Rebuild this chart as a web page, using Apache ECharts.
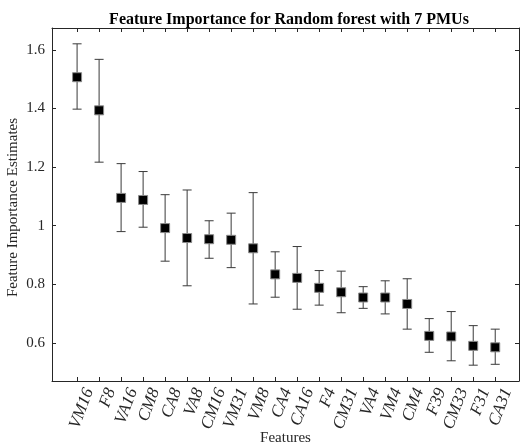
<!DOCTYPE html>
<html>
<head>
<meta charset="utf-8">
<script src="https://cdn.jsdelivr.net/npm/echarts@6/dist/echarts.min.js"></script>
<style>
  * { margin: 0; padding: 0; }
  body { background: #fff; }
  #chart-container { width: 520px; height: 447px; }
</style>
</head>
<body>
<div id="chart-container"></div>
<script>
  var features = ['VM16', 'F8', 'VA16', 'CM8', 'CA8', 'VA8', 'CM16', 'VM31', 'VM8', 'CA4',
    'CA16', 'F4', 'CM31', 'VA4', 'VM4', 'CM4', 'F39', 'CM33', 'F31', 'CA31']
  var estimates = [1.507, 1.394, 1.095, 1.088, 0.992, 0.958, 0.954, 0.952, 0.923, 0.834,
    0.822, 0.788, 0.773, 0.755, 0.755, 0.733, 0.624, 0.622, 0.590, 0.585]
  var lowerBounds = [1.398, 1.217, 0.980, 0.995, 0.879, 0.795, 0.889, 0.857, 0.733, 0.756,
    0.715, 0.729, 0.703, 0.718, 0.699, 0.647, 0.568, 0.539, 0.524, 0.527]
  var upperBounds = [1.621, 1.568, 1.212, 1.185, 1.106, 1.122, 1.017, 1.043, 1.113, 0.911,
    0.929, 0.847, 0.845, 0.792, 0.812, 0.819, 0.683, 0.707, 0.659, 0.647]
  var yTicks = [0.6, 0.8, 1.0, 1.2, 1.4, 1.6]

  var chartDom = document.getElementById('chart-container')
  var myChart = echarts.init(chartDom, null, { renderer: 'canvas' })

  var idx = features.map(function (f, i) { return i })
  var pointData = estimates.map(function (v, i) { return [i, v] })
  var barData = estimates.map(function (v, i) { return [i, lowerBounds[i], upperBounds[i]] })

  var serif = 'Liberation Serif'
  var axisColor = '#262626'
  var xMin = -1.14
  var xMax = 20.08
  var yMin = 0.47
  var yMax = 1.675
  // rotated labels sit a little right of their ticks, like the original
  var labelShift = 0.55

  function xAxisBase(pos) {
    return {
      type: 'value',
      position: pos,
      min: xMin,
      max: xMax,
      splitLine: { show: false },
      axisLine: { show: true, onZero: false, lineStyle: { color: axisColor, width: 1 } },
      axisTick: { show: true, inside: true, length: 4, customValues: idx, lineStyle: { color: axisColor } },
      axisLabel: { show: false },
    }
  }
  function yAxisBase(pos) {
    return {
      type: 'value',
      position: pos,
      min: yMin,
      max: yMax,
      splitLine: { show: false },
      axisLine: { show: true, onZero: false, lineStyle: { color: axisColor, width: 1 } },
      axisTick: { show: true, inside: true, length: 4, customValues: yTicks, lineStyle: { color: axisColor } },
    }
  }

  var xBottom = xAxisBase('bottom')
  xBottom.name = 'Features'
  xBottom.nameLocation = 'middle'
  xBottom.nameGap = 50
  xBottom.nameMoveOverlap = false
  xBottom.nameTextStyle = { fontFamily: serif, fontSize: 15, color: axisColor }

  var xTop = xAxisBase('top')

  var xLabels = {
    type: 'value',
    position: 'bottom',
    min: xMin - labelShift,
    max: xMax - labelShift,
    splitLine: { show: false },
    axisLine: { show: false, onZero: false },
    axisTick: { show: false },
    axisLabel: {
      customValues: idx,
      hideOverlap: false,
      rotate: 69,
      margin: 8,
      fontFamily: serif,
      fontStyle: 'italic',
      fontSize: 17,
      color: axisColor,
      formatter: function (v) { return features[Math.round(v)] },
    },
  }

  var yLeft = yAxisBase('left')
  yLeft.name = 'Feature Importance Estimates'
  yLeft.nameLocation = 'middle'
  yLeft.nameGap = 31
  yLeft.nameMoveOverlap = false
  yLeft.nameTextStyle = { fontFamily: serif, fontSize: 15, color: axisColor, padding: [0, 6, 0, 0] }
  yLeft.axisLabel = {
    customValues: yTicks,
    margin: 7,
    fontFamily: serif,
    fontSize: 15,
    color: axisColor,
    formatter: function (v) { return String(Math.round(v * 10) / 10) },
  }
  var yRight = yAxisBase('right')
  yRight.axisLabel = { show: false }

  var option = {
    animation: false,
    backgroundColor: '#fff',
    title: {
      text: 'Feature Importance for Random forest with 7 PMUs',
      left: 284,
      textAlign: 'center',
      top: 7,
      textStyle: { fontFamily: serif, fontSize: 16, fontWeight: 'bold', color: '#000' },
    },
    grid: { left: 52, right: 1, top: 28, bottom: 66, containLabel: false, outerBoundsMode: 'none' },
    xAxis: [xBottom, xTop, xLabels],
    yAxis: [yLeft, yRight],
    series: [
      {
        type: 'custom',
        xAxisIndex: 0,
        yAxisIndex: 0,
        data: barData,
        z: 2,
        renderItem: function (params, api) {
          var x = api.value(0)
          var lo = api.coord([x, api.value(1)])
          var hi = api.coord([x, api.value(2)])
          var w = 4.5
          var style = { stroke: '#3a3a3a', lineWidth: 1, fill: null }
          return {
            type: 'group',
            children: [
              { type: 'line', shape: { x1: hi[0], y1: hi[1], x2: lo[0], y2: lo[1] }, style: style },
              { type: 'line', shape: { x1: hi[0] - w, y1: hi[1], x2: hi[0] + w, y2: hi[1] }, style: style },
              { type: 'line', shape: { x1: lo[0] - w, y1: lo[1], x2: lo[0] + w, y2: lo[1] }, style: style },
            ],
          }
        },
      },
      {
        type: 'scatter',
        xAxisIndex: 0,
        yAxisIndex: 0,
        data: pointData,
        symbol: 'rect',
        symbolSize: 9,
        z: 3,
        itemStyle: { color: '#000', borderColor: '#8a8a8a', borderWidth: 1, opacity: 1 },
      },
    ],
  }
  myChart.setOption(option)
  window.addEventListener('resize', myChart.resize)
</script>
</body>
</html>
